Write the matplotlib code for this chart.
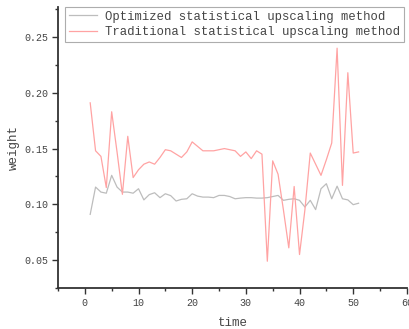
## Weight over time, optimized vs traditional statistical upscaling
import numpy as np
import matplotlib
matplotlib.use("Agg")
import matplotlib.pyplot as plt
from matplotlib.ticker import MultipleLocator

## Data
time = list(range(1, 52))

optimized = [0.091, 0.1155, 0.111, 0.110, 0.126, 0.1155, 0.111, 0.111, 0.110, 0.114,
             0.104, 0.1087, 0.1104, 0.106, 0.1095, 0.1078, 0.103, 0.1045, 0.105, 0.1095,
             0.1074, 0.1065, 0.1065, 0.106, 0.108, 0.108, 0.107, 0.105, 0.1056, 0.106,
             0.106, 0.1056, 0.1056, 0.106, 0.107, 0.108, 0.1036, 0.1045, 0.105, 0.1036,
             0.0976, 0.1036, 0.0953, 0.114, 0.1185, 0.105, 0.1163, 0.105, 0.104, 0.0997,
             0.101]

traditional = [0.191, 0.148, 0.143, 0.115, 0.183, 0.147, 0.109, 0.161, 0.124, 0.131,
               0.136, 0.138, 0.136, 0.142, 0.149, 0.148, 0.145, 0.142, 0.147, 0.156,
               0.152, 0.148, 0.148, 0.148, 0.149, 0.150, 0.149, 0.148, 0.143, 0.147,
               0.141, 0.148, 0.145, 0.049, 0.139, 0.127, 0.095, 0.061, 0.116, 0.055,
               0.095, 0.146, 0.136, 0.126, 0.140, 0.155, 0.240, 0.117, 0.218, 0.146,
               0.147]

labels = ["Optimized statistical upscaling method",
          "Traditional statistical upscaling method"]

plt.rcParams['font.family'] = ['Liberation Mono', 'DejaVu Sans Mono']

fig = plt.figure(figsize=(4.09, 3.29), dpi=100)
ax = fig.add_axes([0.1418, 0.1246, 0.853, 0.8544])

ax.plot(time, optimized, color='#bdbdbd', lw=0.9, label=labels[0])
ax.plot(time, traditional, color='#ffa3a3', lw=0.9, label=labels[1])

ax.set_xlim(-5, 60)
ax.set_ylim(0.025, 0.277)
ax.xaxis.set_major_locator(MultipleLocator(10))
ax.xaxis.set_minor_locator(MultipleLocator(5))
ax.yaxis.set_major_locator(MultipleLocator(0.05))
ax.yaxis.set_minor_locator(MultipleLocator(0.025))
ax.yaxis.set_major_formatter(matplotlib.ticker.FormatStrFormatter('%.2f'))

for side in ['top', 'right']:
    ax.spines[side].set_visible(False)
for side in ['left', 'bottom']:
    ax.spines[side].set_linewidth(1.3)
    ax.spines[side].set_color('#333333')

ax.tick_params(which='major', direction='out', length=4, width=1, color='#333333',
               labelsize=7.2, labelcolor='#444444', pad=3)
ax.tick_params(which='minor', direction='out', length=2.5, width=1, color='#333333')

ax.set_xlabel("time", fontsize=9, color='#444444', labelpad=7)
ax.set_ylabel("weight", fontsize=9, color='#444444', labelpad=3)

leg = ax.legend(loc='upper left', bbox_to_anchor=(0.02, 1.0), borderaxespad=0,
                fontsize=8.8, frameon=True, fancybox=False, handlelength=2.3,
                handletextpad=0.7, labelspacing=0.3, borderpad=0.3)
leg.get_frame().set_edgecolor('#999999')
leg.get_frame().set_linewidth(0.8)
for t in leg.get_texts():
    t.set_color('#444444')

fig.savefig("out.png", dpi=100)
